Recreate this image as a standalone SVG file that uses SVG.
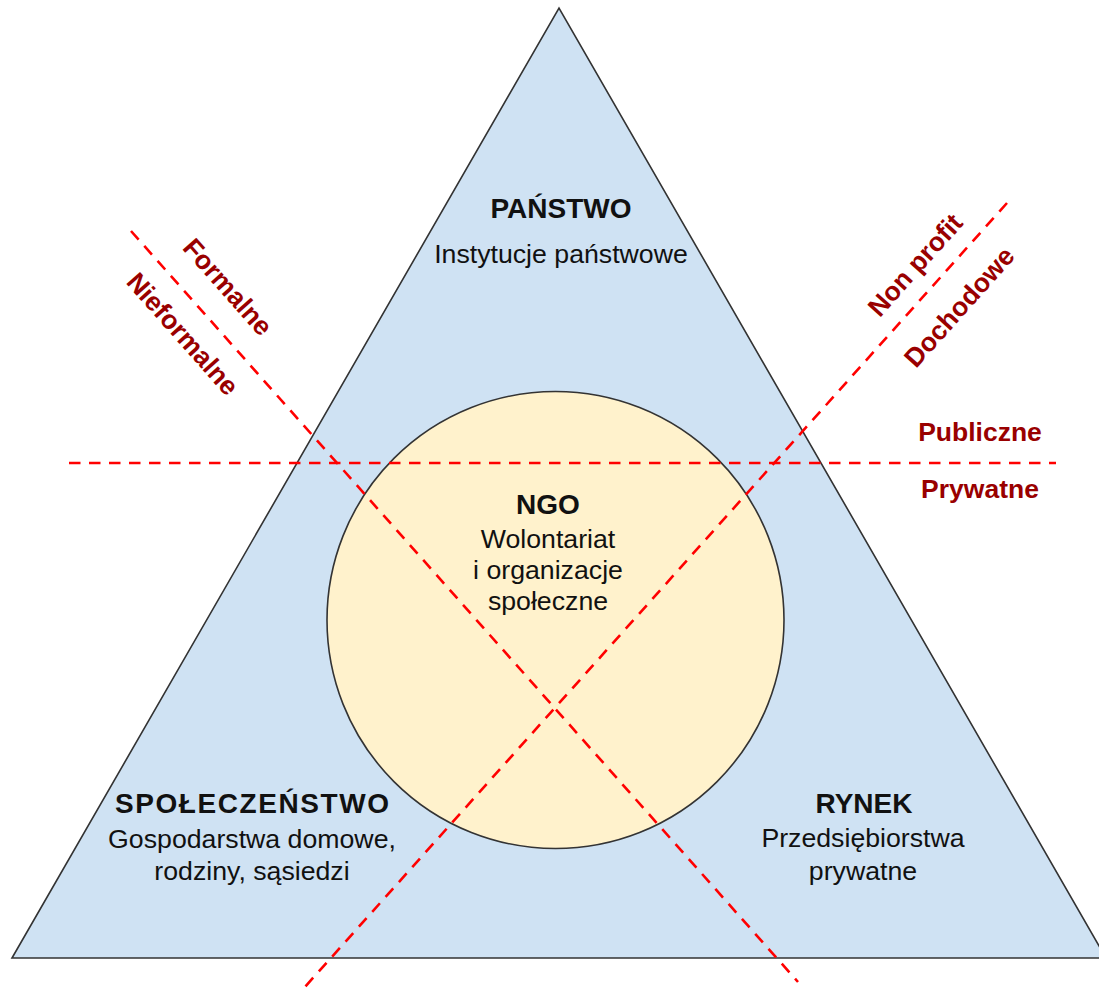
<svg xmlns="http://www.w3.org/2000/svg" width="1099" height="988" viewBox="0 0 1099 988">
  <style>
    .shape { stroke: #333333; stroke-width: 1.6; }
    .t { font-family: "Liberation Sans", Arial, sans-serif; font-size: 26.7px; fill: #111111; text-anchor: middle; }
    .b { font-weight: bold; font-size: 28px; }
    .lbl { font-family: "Liberation Sans", Arial, sans-serif; font-size: 26.5px; font-weight: bold; fill: #990000; text-anchor: middle; }
    .dash { stroke: #ff0000; stroke-width: 2.6; stroke-dasharray: 11.5 8.5; fill: none; }
  </style>
  <rect width="1099" height="988" fill="#ffffff"/>
  <g id="triangle">
    <polygon class="shape" points="12,958 559,8 1106,958" fill="#cfe2f3"/>
  </g>
  <g id="circle">
    <circle class="shape" cx="555.5" cy="620" r="228.5" fill="#fff2cc"/>
  </g>
  <g id="connectors">
    <line class="dash" x1="69" y1="463" x2="1056" y2="463"/>
    <line class="dash" x1="131" y1="231" x2="798" y2="982"/>
    <line class="dash" x1="1007" y1="203" x2="304" y2="988"/>
  </g>
  <g id="panstwo">
    <text class="t b" x="561" y="218">PAŃSTWO</text>
    <text class="t" x="561" y="263">Instytucje państwowe</text>
  </g>
  <g id="ngo">
    <text class="t b" x="548" y="514">NGO</text>
    <text class="t" x="548" y="548">Wolontariat</text>
    <text class="t" x="548" y="579">i organizacje</text>
    <text class="t" x="548" y="610">społeczne</text>
  </g>
  <g id="spoleczenstwo">
    <text class="t b" x="252" y="813" textLength="274" lengthAdjust="spacing">SPOŁECZEŃSTWO</text>
    <text class="t" x="252" y="848">Gospodarstwa domowe,</text>
    <text class="t" x="252" y="880">rodziny, sąsiedzi</text>
  </g>
  <g id="rynek">
    <text class="t b" x="864" y="813">RYNEK</text>
    <text class="t" x="863" y="847">Przedsiębiorstwa</text>
    <text class="t" x="863" y="880">prywatne</text>
  </g>
  <g id="labels">
    <text class="lbl" x="980" y="441">Publiczne</text>
    <text class="lbl" x="980" y="498">Prywatne</text>
    <text class="lbl" transform="translate(221,293) rotate(48.4)">Formalne</text>
    <text class="lbl" transform="translate(176,340) rotate(48.4)">Nieformalne</text>
    <text class="lbl" transform="translate(922,271) rotate(-48.2)">Non profit</text>
    <text class="lbl" transform="translate(966,313) rotate(-48.2)">Dochodowe</text>
  </g>
</svg>
